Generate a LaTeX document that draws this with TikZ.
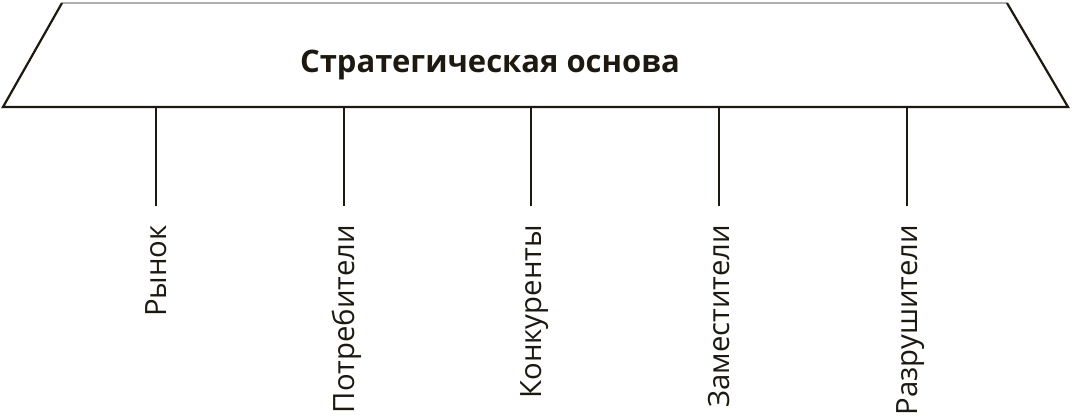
\documentclass[tikz,border=0pt]{standalone}
\usepackage{fontspec}
\setmainfont{Open Sans}
\definecolor{ink}{RGB}{30,25,16}
\definecolor{topgray}{RGB}{175,175,175}
\begin{document}
\begin{tikzpicture}[x=1pt,y=-1pt,
  edge/.style={draw=ink,line width=2.2pt,line join=miter},
  stem/.style={draw=ink,line width=2pt},
  lbl/.style={rotate=90,anchor=base east,inner sep=0pt,text=ink,font=\fontsize{29.3}{34}\selectfont},
  ttl/.style={anchor=base,inner sep=0pt,text=ink,font=\bfseries\fontsize{31}{36}\selectfont}]
\useasboundingbox[fill=white] (0,0) rectangle (1072,418);
\coordinate (tl) at (62,3);
\coordinate (tr) at (1007,3);
\coordinate (br) at (1068,107);
\coordinate (bl) at (3,107);
\draw[draw=topgray,line width=1.6pt] (tl) -- (tr);
\draw[edge] (tr) -- (br) -- (bl) -- (tl);
\node[ttl] (title) at (490,72) {Стратегическая основа};
\foreach \x/\n/\t in {156/a/Рынок,344/b/Потребители,531/c/Конкуренты,719/d/Заместители,907/e/Разрушители}{
  \coordinate (s\n) at (\x,107);
  \coordinate (e\n) at (\x,206);
  \draw[stem] (s\n) -- (e\n);
  \node[lbl] (l\n) at (\x+10,225) {\t};
}
\end{tikzpicture}
\end{document}
